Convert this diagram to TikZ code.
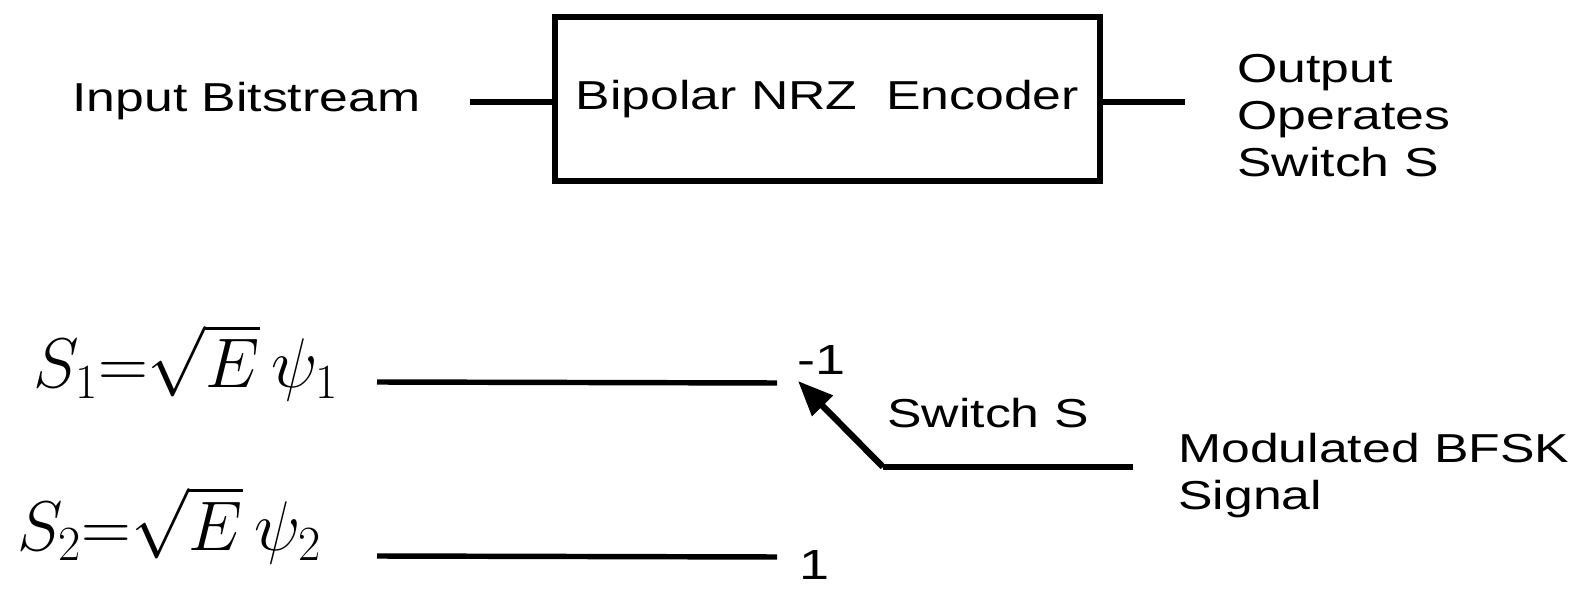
\documentclass[tikz,border=0pt]{standalone}
\usepackage{fix-cm}
\usepackage[no-math]{fontspec}
\setmainfont{Liberation Sans}
\usepackage{graphicx}
\usetikzlibrary{arrows.meta}
\newcommand{\widetext}[1]{\scalebox{1.28}[1]{#1}}
\begin{document}
\begin{tikzpicture}[x=0.02cm,y=-0.02cm,
  wire/.style={line width=3.1pt},
  lbl/.style={inner sep=0pt,anchor=base west,font=\fontsize{23}{26.7}\selectfont},
  numlbl/.style={inner sep=0pt,anchor=base west,font=\fontsize{24}{28}\selectfont},
  eqlbl/.style={inner sep=0pt,anchor=base west,font=\fontsize{40}{48}\selectfont},
  block/.style={draw,line width=3.2pt,minimum width=10.9cm,minimum height=3.28cm,inner sep=0pt,font=\fontsize{23}{26.7}\selectfont}]
\useasboundingbox (0,0) rectangle (1583,594);

% top row
\node[lbl] (inp) at (72,112) {\widetext{Input Bitstream}};
\node[block] (enc) at (827.5,99) {\widetext{Bipolar NRZ\ \ Encoder}};
\coordinate (inL) at (470,102);
\coordinate (outR) at (1185,102);
\draw[wire] (inL) -- (inL -| enc.west);
\draw[wire] (outR -| enc.east) -- (outR);
\node[lbl] (outlbl) at (1237,83) {\widetext{\begin{tabular}[t]{@{}l@{}}Output\\Operates\\Switch S\end{tabular}}};

% equations
\node[eqlbl] (eq1) at (33,388) {\resizebox{6.1cm}{\height}{$S_1{=}\sqrt{E}\,\psi_1$}};
\node[eqlbl] (eq2) at (17,550) {\resizebox{6.08cm}{\height}{$S_2{=}\sqrt{E}\,\psi_2$}};

% contact lines
\coordinate (a1) at (377,382);
\coordinate (b1) at (777,383);
\coordinate (a2) at (377,556);
\coordinate (b2) at (777,557);
\draw[wire] (a1) -- (b1);
\draw[wire] (a2) -- (b2);
\node[numlbl] (m1) at (797,375) {\widetext{-1}};
\node[numlbl] (p1) at (799,580) {\widetext{1}};

% switch
\coordinate (tip) at (798,381);
\coordinate (pivot) at (883,467);
\coordinate (sig) at (1133,467);
\draw[wire] (sig) -- (pivot);
\draw[line width=3.6pt,-{Triangle[length=0.7cm,width=0.56cm]}] (pivot) -- (tip);
\node[lbl] (swl) at (887,428) {\widetext{Switch S}};
\node[lbl] (bfsk) at (1178,463) {\widetext{\begin{tabular}[t]{@{}l@{}}Modulated BFSK\\Signal\end{tabular}}};
\end{tikzpicture}
\end{document}
